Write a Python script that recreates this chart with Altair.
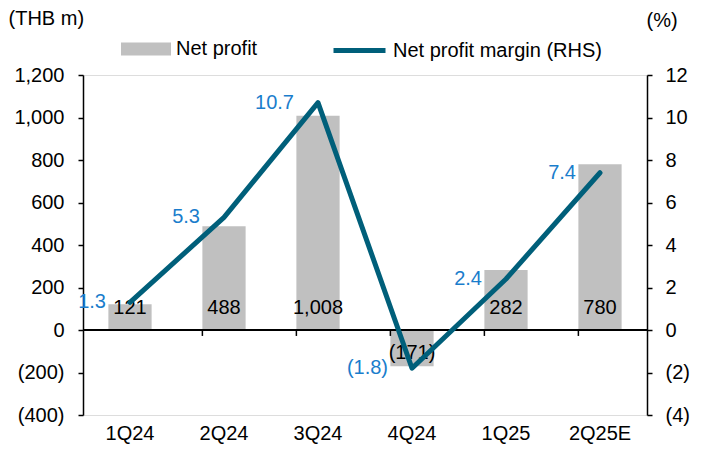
import altair as alt
import pandas as pd

quarters = ["1Q24", "2Q24", "3Q24", "4Q24", "1Q25", "2Q25E"]
net_profit = [121, 488, 1008, -171, 282, 780]
margin = [1.3, 5.3, 10.7, -1.8, 2.4, 7.4]

FONT = "Liberation Sans"
FS = 20
BAR = "#C0C0C0"
LINE = "#005F7A"
BLUE = "#1A7DCC"
W, H = 564, 340

df = pd.DataFrame({"q": quarters, "np": net_profit, "m": margin})

yl = alt.Scale(domain=[-400, 1200], nice=False, zero=False)
yr = alt.Scale(domain=[-4, 12], nice=False, zero=False)
xq = alt.X("q:N", sort=quarters)

bars = alt.Chart(df).transform_calculate(series="'Net profit'").mark_bar().encode(
    x=alt.X("q:N", sort=quarters,
            scale=alt.Scale(paddingInner=0.54, paddingOuter=0.27),
            axis=alt.Axis(title=None, labelAngle=0, domain=False, ticks=False, tickSize=0,
                          labelPadding=8, labelFont=FONT, labelFontSize=FS, labelColor="black",
                          grid=False)),
    y=alt.Y("np:Q", scale=yl,
            axis=alt.Axis(orient="left", values=list(range(-400, 1201, 200)),
                          labelExpr="datum.value < 0 ? '(' + format(-datum.value, ',') + ')' : format(datum.value, ',')",
                          title="(THB m)", titleAngle=0, titleX=-75, titleY=-57,
                          titleAlign="left", titleBaseline="middle", titleFont=FONT,
                          titleFontSize=FS, titleFontWeight="normal", titleColor="black",
                          labelFont=FONT, labelFontSize=FS, labelColor="black", labelPadding=14,
                          domainColor="black", domainWidth=1.5, tickColor="black", tickWidth=1.5,
                          tickSize=5, grid=False)),
    fill=alt.Fill("series:N", scale=alt.Scale(domain=["Net profit"], range=[BAR]),
                  legend=alt.Legend(orient="none", legendX=38, legendY=-51, title=None,
                                    symbolType="M-1,-0.26H1V0.26H-1Z", symbolSize=2500,
                                    symbolStrokeWidth=0, labelFont=FONT, labelFontSize=FS,
                                    labelColor="black", labelOffset=5, padding=0, labelLimit=300)),
)

zero = alt.Chart(df).mark_rule(color="black", strokeWidth=1.5).encode(y=alt.datum(0, scale=yl))

ticks = alt.Chart(df).transform_filter("datum.q != '1Q24'").mark_rule(
    color="black", strokeWidth=1.5).encode(
    x=alt.X("q:N", sort=quarters, bandPosition=0),
    y=alt.datum(0, scale=yl),
    y2=alt.datum(-28),
)

np_lab = "datum.np < 0 ? '(' + format(-datum.np, ',') + ')' : format(datum.np, ',')"
pos_lab = alt.Chart(df).transform_filter("datum.np >= 0").transform_calculate(lab=np_lab).mark_text(
    font=FONT, fontSize=FS, color="black", baseline="middle", dy=-22).encode(
    x=xq, y=alt.datum(0, scale=yl), text="lab:N")
neg_lab = alt.Chart(df).transform_filter("datum.np < 0").transform_calculate(lab=np_lab).mark_text(
    font=FONT, fontSize=FS, color="black", baseline="middle", dy=23).encode(
    x=xq, y=alt.datum(0, scale=yl), text="lab:N")

left = alt.layer(bars, zero, ticks, pos_lab, neg_lab)

line = alt.Chart(df).transform_calculate(series="'Net profit margin (RHS)'").mark_line(
    strokeWidth=5, strokeCap="round", strokeJoin="round").encode(
    x=xq,
    y=alt.Y("m:Q", scale=yr,
            axis=alt.Axis(orient="right", values=list(range(-4, 13, 2)),
                          labelExpr="datum.value < 0 ? '(' + format(-datum.value, 'd') + ')' : format(datum.value, 'd')",
                          title="(%)", titleAngle=0, titleX=-1, titleY=-55,
                          titleAlign="left", titleBaseline="middle", titleFont=FONT,
                          titleFontSize=FS, titleFontWeight="normal", titleColor="black",
                          labelFont=FONT, labelFontSize=FS, labelColor="black", labelPadding=13,
                          domainColor="black", domainWidth=1.5, tickColor="black", tickWidth=1.5,
                          tickSize=5, grid=False)),
    stroke=alt.Stroke("series:N", scale=alt.Scale(domain=["Net profit margin (RHS)"], range=[LINE]),
                      legend=alt.Legend(orient="none", legendX=248, legendY=-53, title=None,
                                        symbolType="stroke", symbolSize=2704, symbolStrokeWidth=5,
                                        labelFont=FONT, labelFontSize=FS, labelColor="black",
                                        labelOffset=5, padding=0, labelLimit=300)),
)

m_lab = "datum.m < 0 ? '(' + format(-datum.m, '.1f') + ')' : format(datum.m, '.1f')"
m_text = alt.Chart(df).transform_calculate(lab=m_lab).mark_text(
    font=FONT, fontSize=FS, color=BLUE, align="right", baseline="middle", dx=-24).encode(
    x=xq, y=alt.Y("m:Q", scale=yr), text="lab:N")

right = alt.layer(line, m_text)

chart = alt.layer(left, right).resolve_scale(y="independent").properties(
    width=W, height=H,
    autosize=alt.AutoSizeParams(type="none"),
    padding={"left": 75, "top": 67, "right": 50, "bottom": 31},
).configure_view(stroke=None).configure(background="white")

chart.save("out.html", embed_options={"renderer": "svg", "actions": False})
